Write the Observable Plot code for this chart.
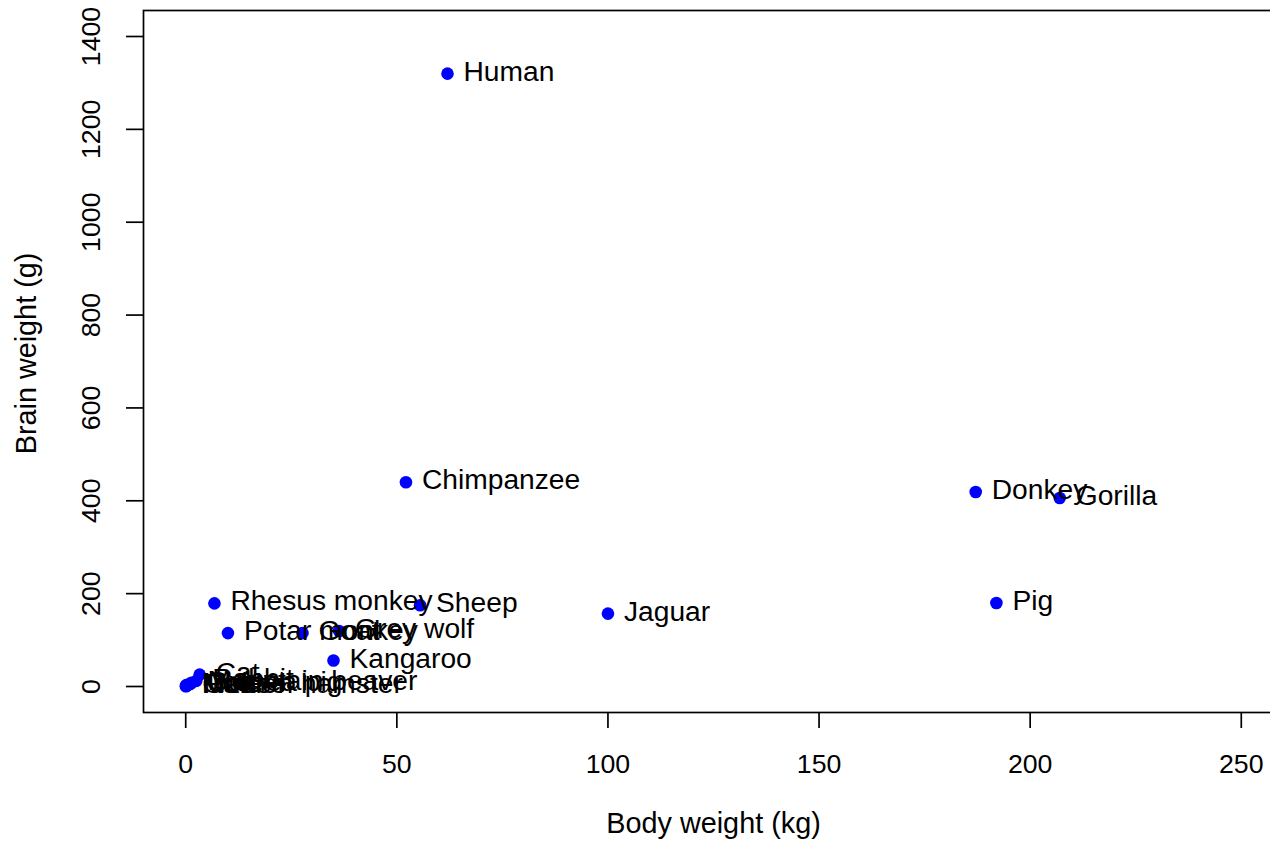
<!DOCTYPE html>
<html>
<head>
<meta charset="utf-8">
<script src="https://cdn.jsdelivr.net/npm/d3@7"></script>
<script src="https://cdn.jsdelivr.net/npm/@observablehq/plot@0.6"></script>
<style>
  html, body { margin: 0; padding: 0; background: #ffffff; }
  #chart svg { display: block; }
</style>
</head>
<body>
<div id="chart"></div>
<script>
// Mammals with body weight under 250 kg (MASS::Animals), in dataset row order
const animals = [
  "Mountain beaver", "Grey wolf", "Goat", "Guinea pig", "Donkey",
  "Potar monkey", "Cat", "Gorilla", "Human", "Rhesus monkey",
  "Kangaroo", "Golden hamster", "Mouse", "Rabbit", "Sheep",
  "Jaguar", "Chimpanzee", "Rat", "Mole", "Pig"
];
const bodyKg = [
  1.35, 36.33, 27.66, 1.04, 187.1,
  10, 3.3, 207, 62, 6.8,
  35, 0.12, 0.023, 2.5, 55.5,
  100, 52.16, 0.28, 0.122, 192
];
const brainG = [
  8.1, 119.5, 115, 5.5, 419,
  115, 25.6, 406, 1320, 179,
  56, 1, 0.4, 12.1, 175,
  157, 440, 1.9, 3, 180
];
const xTicks = [0, 50, 100, 150, 200, 250];
const yTicks = [0, 200, 400, 600, 800, 1000, 1200, 1400];
const xTitle = "Body weight (kg)";
const yTitle = "Brain weight (g)";

const data = animals.map((name, i) => ({ name, body: bodyKg[i], brain: brainG[i] }));

const font = '"Liberation Sans", Arial, Helvetica, sans-serif';
const fsTick = 26.7;   // tick labels
const fsLabel = 28.2;  // point labels
const fsTitle = 28.8;  // axis titles
const lw = 1.7;

const chart = Plot.plot({
  width: 1270,
  height: 848,
  marginLeft: 143,
  marginRight: -13,
  marginTop: 10,
  marginBottom: 136,
  style: { fontFamily: font, fontSize: fsTick + "px", background: "white", color: "black" },
  x: { domain: [-10, 260] },
  y: { domain: [-56, 1456] },
  marks: [
    Plot.frame({ stroke: "black", strokeWidth: lw }),
    Plot.axisX({
      ticks: xTicks, tickSize: 16, tickPadding: 26, strokeWidth: lw,
      fontSize: fsTick, label: null, tickFormat: d => String(d)
    }),
    Plot.axisY({
      ticks: yTicks, tickSize: 17, strokeWidth: lw,
      label: null, tickFormat: () => ""
    }),
    Plot.text(yTicks, {
      y: d => d, text: d => String(d), frameAnchor: "left",
      dx: -52, rotate: -90, textAnchor: "middle", lineAnchor: "middle",
      fontSize: fsTick, fill: "black"
    }),
    Plot.dot(data, { x: "body", y: "brain", r: 6.3, fill: "#0000ff", stroke: null }),
    Plot.text(data, {
      x: "body", y: "brain", text: "name", textAnchor: "start",
      lineAnchor: "middle", dx: 16, dy: -2, fontSize: fsLabel, fill: "black"
    }),
    Plot.text([xTitle], {
      text: d => d, frameAnchor: "bottom", dy: 111,
      textAnchor: "middle", lineAnchor: "middle", fontSize: fsTitle, fill: "black"
    }),
    Plot.text([yTitle], {
      text: d => d, frameAnchor: "left", dx: -117, dy: -8, rotate: -90,
      textAnchor: "middle", lineAnchor: "middle", fontSize: fsTitle, fill: "black"
    })
  ]
});

document.getElementById("chart").appendChild(chart);
</script>
</body>
</html>
